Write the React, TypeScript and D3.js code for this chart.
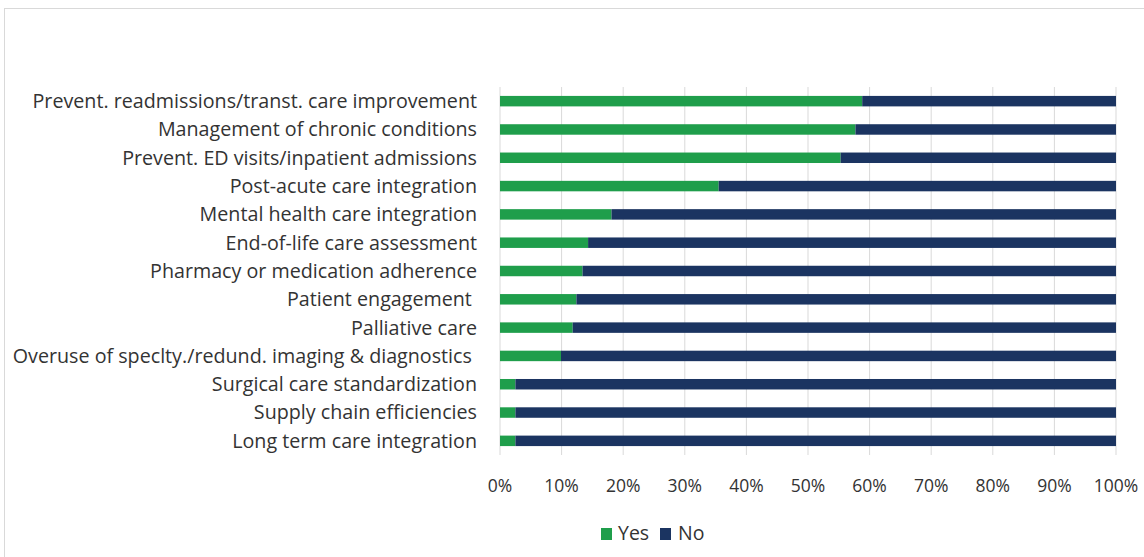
import React from "react";
import * as d3 from "d3";

const categories = [
  "Prevent. readmissions/transt. care improvement",
  "Management of chronic conditions",
  "Prevent. ED visits/inpatient admissions",
  "Post-acute care integration",
  "Mental health care integration",
  "End-of-life care assessment",
  "Pharmacy or medication adherence",
  "Patient engagement ",
  "Palliative care",
  "Overuse of speclty./redund. imaging & diagnostics ",
  "Surgical care standardization",
  "Supply chain efficiencies",
  "Long term care integration",
];
const yesValues = [58.8, 57.7, 55.3, 35.5, 18.1, 14.3, 13.4, 12.4, 11.8, 9.9, 2.5, 2.5, 2.5];
const noValues = yesValues.map((v) => 100 - v);
const ticks = [0, 10, 20, 30, 40, 50, 60, 70, 80, 90, 100];
const seriesNames = ["Yes", "No"];
const colors = ["#1f9e4b", "#1b3461"];

const W = 1144;
const H = 557;
const FONT = "'Open Sans', sans-serif";
const TXT = "#333333";

export default function App() {
  const x = d3.scaleLinear().domain([0, 100]).range([500, 1116]);
  const y = d3.scaleBand().domain(categories).range([87, 455]).paddingInner(0.63).paddingOuter(0.315);
  const bh = y.bandwidth();
  return (
    <svg width={W} height={H} style={{ position: "absolute", left: 0, top: 0 }}>
      <rect x={0} y={0} width={W} height={H} fill="#fff" />
      <rect x={4.5} y={8.5} width={1150} height={560} fill="none" stroke="#d9d9d9" />
      {ticks.map((t) => (
        <line key={t} x1={x(t)} x2={x(t)} y1={87} y2={455} stroke="#d9d9d9" strokeWidth={1} />
      ))}
      {categories.map((c, i) => (
        <g key={c}>
          <rect x={x(0)} y={y(c)!} width={x(yesValues[i]) - x(0)} height={bh} fill={colors[0]} />
          <rect x={x(yesValues[i])} y={y(c)!} width={x(yesValues[i] + noValues[i]) - x(yesValues[i])} height={bh} fill={colors[1]} />
          <text x={477} y={y(c)! + bh / 2} dy="0.35em" textAnchor="end" fontFamily={FONT} fontSize={19.7} fill={TXT} style={{ whiteSpace: "pre" }}>
            {c}
          </text>
        </g>
      ))}
      {ticks.map((t) => (
        <text key={t} x={x(t)} y={492} textAnchor="middle" fontFamily={FONT} fontSize={17.5} fill={TXT}>
          {t + "%"}
        </text>
      ))}
      <g>
        <rect x={601} y={528} width={11} height={12} fill={colors[0]} />
        <text x={618} y={540} fontFamily={FONT} fontSize={19.5} fill={TXT}>{seriesNames[0]}</text>
        <rect x={660} y={528} width={11} height={12} fill={colors[1]} />
        <text x={678} y={540} fontFamily={FONT} fontSize={19.5} fill={TXT}>{seriesNames[1]}</text>
      </g>
    </svg>
  );
}
